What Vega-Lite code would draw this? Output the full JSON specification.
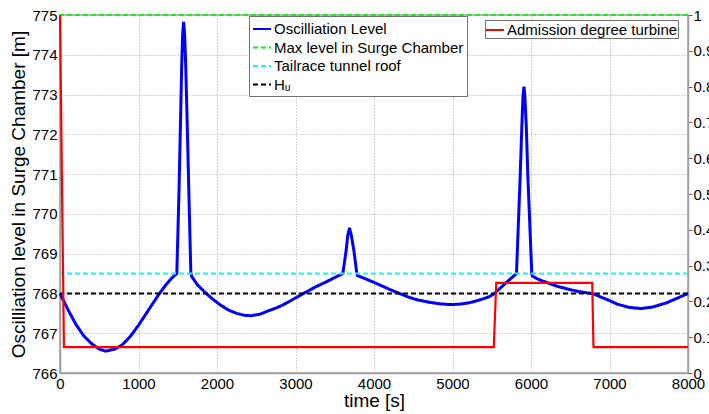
{
  "$schema": "https://vega.github.io/schema/vega-lite/v6.json",
  "width": 628,
  "height": 358,
  "autosize": {"type": "none"},
  "padding": {"left": 60, "top": 15, "right": 21, "bottom": 41},
  "background": "white",
  "config": {
    "font": "Liberation Sans",
    "view": {"stroke": "#a0a0a0", "strokeWidth": 1.5},
    "axis": {
      "labelFontSize": 15, "labelColor": "black", "labelFont": "Liberation Sans",
      "titleFontSize": 19, "titleFontWeight": "normal", "titleColor": "black", "titleFont": "Liberation Sans",
      "domainColor": "#a0a0a0", "domainWidth": 1.5,
      "gridColor": "#a8a8a8", "gridDash": [1, 2], "gridWidth": 1, "gridOpacity": 1,
      "ticks": false, "labelOverlap": false
    },
    "legend": {
      "labelFontSize": 15, "labelFont": "Liberation Sans", "labelColor": "black",
      "fillColor": "white", "strokeColor": "#707070",
      "padding": 3, "symbolStrokeWidth": 2, "symbolSize": 324, "symbolType": "stroke",
      "rowPadding": 0.5, "labelOffset": 2, "labelLimit": 400
    }
  },
  "datasets": {
    "osc": [
      {"t": 0, "level": 768.0}, {"t": 50, "level": 767.8}, {"t": 100, "level": 767.6}, {"t": 200, "level": 767.23},
      {"t": 300, "level": 766.94}, {"t": 400, "level": 766.74}, {"t": 500, "level": 766.6}, {"t": 580, "level": 766.55},
      {"t": 700, "level": 766.6}, {"t": 800, "level": 766.72}, {"t": 900, "level": 766.93}, {"t": 1000, "level": 767.2},
      {"t": 1100, "level": 767.5}, {"t": 1200, "level": 767.8}, {"t": 1268, "level": 768.0}, {"t": 1350, "level": 768.22},
      {"t": 1420, "level": 768.38}, {"t": 1488, "level": 768.5}, {"t": 1515, "level": 770.5}, {"t": 1535, "level": 772.3},
      {"t": 1550, "level": 773.7}, {"t": 1562, "level": 774.5}, {"t": 1575, "level": 774.83}, {"t": 1588, "level": 774.5},
      {"t": 1602, "level": 773.7}, {"t": 1620, "level": 772.3}, {"t": 1642, "level": 770.5}, {"t": 1667, "level": 768.5},
      {"t": 1680, "level": 768.42}, {"t": 1750, "level": 768.22}, {"t": 1800, "level": 768.12}, {"t": 1862, "level": 768.0},
      {"t": 1950, "level": 767.85}, {"t": 2050, "level": 767.7}, {"t": 2150, "level": 767.58}, {"t": 2250, "level": 767.5},
      {"t": 2350, "level": 767.45}, {"t": 2435, "level": 767.44}, {"t": 2550, "level": 767.48}, {"t": 2650, "level": 767.56},
      {"t": 2750, "level": 767.63}, {"t": 2839, "level": 767.71}, {"t": 2950, "level": 767.83}, {"t": 3102, "level": 768.0},
      {"t": 3250, "level": 768.16}, {"t": 3391, "level": 768.29}, {"t": 3500, "level": 768.4}, {"t": 3603, "level": 768.5},
      {"t": 3646, "level": 769.09}, {"t": 3665, "level": 769.45}, {"t": 3688, "level": 769.65}, {"t": 3712, "level": 769.45},
      {"t": 3743, "level": 769.09}, {"t": 3781, "level": 768.5}, {"t": 3790, "level": 768.45}, {"t": 3900, "level": 768.36},
      {"t": 3985, "level": 768.29}, {"t": 4100, "level": 768.19}, {"t": 4200, "level": 768.1}, {"t": 4325, "level": 768.0},
      {"t": 4450, "level": 767.9}, {"t": 4550, "level": 767.84}, {"t": 4700, "level": 767.78}, {"t": 4834, "level": 767.74},
      {"t": 4962, "level": 767.72}, {"t": 5089, "level": 767.73}, {"t": 5200, "level": 767.76}, {"t": 5300, "level": 767.81},
      {"t": 5400, "level": 767.87}, {"t": 5471, "level": 767.92}, {"t": 5535, "level": 768.0}, {"t": 5600, "level": 768.12},
      {"t": 5700, "level": 768.3}, {"t": 5815, "level": 768.5}, {"t": 5862, "level": 770.94}, {"t": 5883, "level": 772.19},
      {"t": 5898, "level": 772.95}, {"t": 5910, "level": 773.2}, {"t": 5922, "level": 772.95}, {"t": 5940, "level": 772.19},
      {"t": 5960, "level": 770.94}, {"t": 6010, "level": 768.5}, {"t": 6020, "level": 768.43}, {"t": 6100, "level": 768.35},
      {"t": 6236, "level": 768.25}, {"t": 6350, "level": 768.17}, {"t": 6448, "level": 768.12}, {"t": 6600, "level": 768.05},
      {"t": 6796, "level": 767.99}, {"t": 6900, "level": 767.9}, {"t": 7000, "level": 767.82}, {"t": 7100, "level": 767.73},
      {"t": 7250, "level": 767.65}, {"t": 7404, "level": 767.62}, {"t": 7550, "level": 767.66}, {"t": 7722, "level": 767.76},
      {"t": 7850, "level": 767.87}, {"t": 8000, "level": 768.0}
    ],
    "lines": [
      {"series": "Max level in Surge Chamber", "level": 775},
      {"series": "Tailrace tunnel roof", "level": 768.5},
      {"series": "Hᵤ", "level": 768}
    ],
    "adm": [
      {"t": 0, "a": 1.0}, {"t": 50, "a": 0.072}, {"t": 5526, "a": 0.072}, {"t": 5557, "a": 0.252},
      {"t": 6780, "a": 0.252}, {"t": 6796, "a": 0.072}, {"t": 8000, "a": 0.072}
    ]
  },
  "layer": [
    {
      "layer": [
        {
          "data": {"name": "osc"},
          "transform": [{"calculate": "'Oscilliation Level'", "as": "series"}],
          "mark": {"type": "line", "strokeWidth": 3},
          "encoding": {
            "x": {"field": "t", "type": "quantitative", "scale": {"domain": [0, 8000], "nice": false},
                  "axis": {"title": "time [s]", "values": [0, 1000, 2000, 3000, 4000, 5000, 6000, 7000, 8000], "format": "d", "labelPadding": 3, "titlePadding": 0, "grid": true, "labelFlush": false, "labelOverlap": false}},
            "y": {"field": "level", "type": "quantitative", "scale": {"domain": [766, 775], "nice": false, "zero": false},
                  "axis": {"title": "Oscilliation level in Surge Chamber [m]", "values": [766, 767, 768, 769, 770, 771, 772, 773, 774, 775], "tickCount": 10, "format": "d", "labelPadding": 3, "titlePadding": 3, "grid": true, "labelFlush": false, "labelOverlap": false}},
            "color": {"field": "series", "type": "nominal",
                      "scale": {"domain": ["Oscilliation Level", "Max level in Surge Chamber", "Tailrace tunnel roof", "Hᵤ"], "range": ["#0000ff", "#00ff00", "#00ffff", "#000000"]},
                      "legend": {"title": null, "orient": "none", "legendX": 189, "legendY": 1}},
            "strokeDash": {"field": "series", "type": "nominal",
                      "scale": {"domain": ["Oscilliation Level", "Max level in Surge Chamber", "Tailrace tunnel roof", "Hᵤ"], "range": [[1, 0], [5, 3], [5, 3], [5, 3]]},
                      "legend": {"title": null, "orient": "none", "legendX": 189, "legendY": 1}}
          }
        },
        {
          "data": {"name": "lines"},
          "mark": {"type": "rule", "strokeWidth": 2},
          "encoding": {
            "y": {"field": "level", "type": "quantitative",
                  "axis": {"title": "Oscilliation level in Surge Chamber [m]", "values": [766, 767, 768, 769, 770, 771, 772, 773, 774, 775], "tickCount": 10, "format": "d", "labelPadding": 3, "titlePadding": 3, "grid": true, "labelFlush": false, "labelOverlap": false}},
            "color": {"field": "series", "type": "nominal"},
            "strokeDash": {"field": "series", "type": "nominal"}
          }
        }
      ]
    },
    {
      "data": {"name": "adm"},
      "transform": [{"calculate": "'Admission degree turbine'", "as": "series2"}],
      "mark": {"type": "line", "strokeWidth": 2.2},
      "encoding": {
        "x": {"field": "t", "type": "quantitative"},
        "y": {"field": "a", "type": "quantitative", "scale": {"domain": [0, 1], "nice": false},
              "axis": {"orient": "right", "title": null, "values": [0, 0.1, 0.2, 0.3, 0.4, 0.5, 0.6, 0.7, 0.8, 0.9, 1], "format": ".1~f", "grid": false, "ticks": true, "tickSize": 4, "tickColor": "#606060", "labelPadding": 1, "labelFlush": false}},
        "color": {"field": "series2", "type": "nominal",
                  "scale": {"domain": ["Admission degree turbine"], "range": ["#ff0000"]},
                  "legend": {"title": null, "orient": "none", "legendX": 425, "legendY": 5, "padding": 0}}
      }
    }
  ],
  "resolve": {"scale": {"y": "independent", "color": "independent", "strokeDash": "independent"}}
}
